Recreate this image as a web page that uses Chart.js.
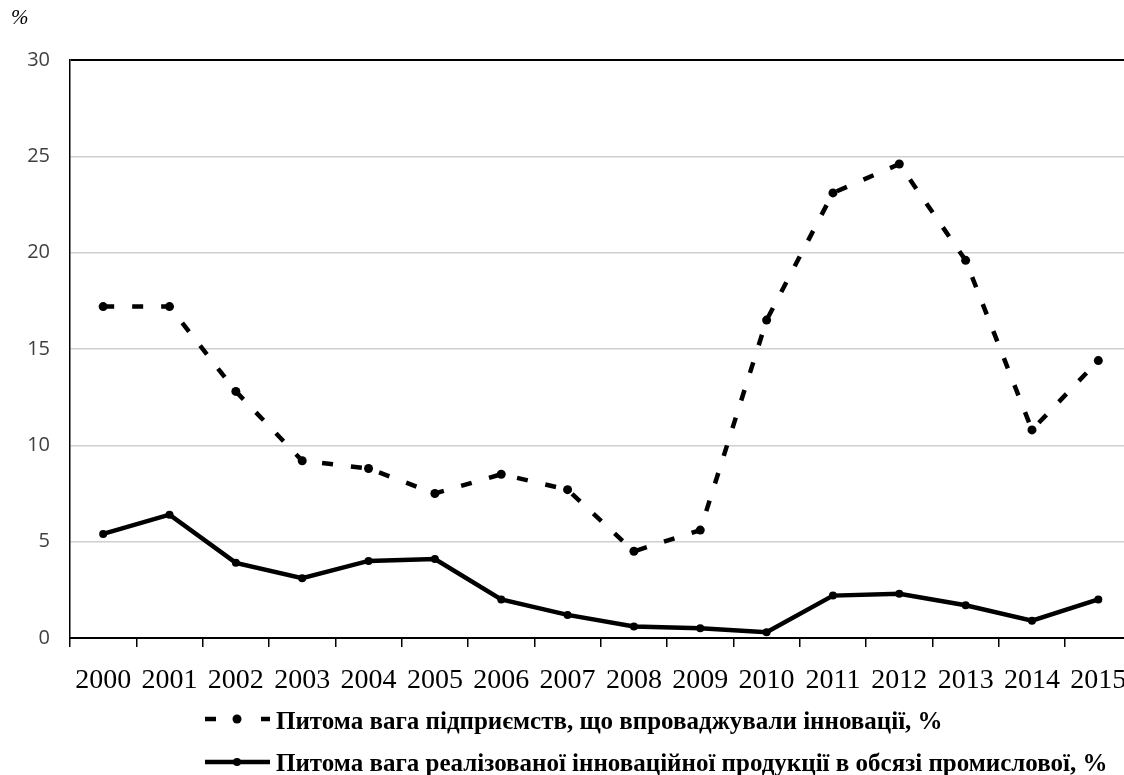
<!DOCTYPE html>
<html>
<head>
<meta charset="utf-8">
<script src="https://cdn.jsdelivr.net/npm/chart.js@4.4.1/dist/chart.umd.min.js"></script>
<style>
  html, body { margin: 0; padding: 0; background: #fff; overflow: hidden; width: 1124px; height: 775px; }
  #wrap { position: absolute; left: 0; top: 0; width: 1136px; height: 775px; }
</style>
</head>
<body>
<div id="wrap"><canvas id="c" width="1136" height="775"></canvas></div>
<script>
const categories = ['2000','2001','2002','2003','2004','2005','2006','2007','2008','2009','2010','2011','2012','2013','2014','2015'];
const enterprisesShare = [17.2, 17.2, 12.8, 9.2, 8.8, 7.5, 8.5, 7.7, 4.5, 5.6, 16.5, 23.1, 24.6, 19.6, 10.8, 14.4];
const productShare = [5.4, 6.4, 3.9, 3.1, 4.0, 4.1, 2.0, 1.2, 0.6, 0.5, 0.3, 2.2, 2.3, 1.7, 0.9, 2.0];
const seriesNames = [
  'Питома вага підприємств, що впроваджували інновації, %',
  'Питома вага реалізованої інноваційної продукції в обсязі промислової, %'
];
const yTicks = [0, 5, 10, 15, 20, 25, 30];
const unitLabel = '%';

const extras = {
  id: 'extras',
  afterDraw(chart) {
    const ctx = chart.ctx;
    ctx.save();
    ctx.fillStyle = '#000';
    ctx.font = 'italic 21px "Liberation Serif"';
    ctx.textBaseline = 'middle';
    ctx.textAlign = 'left';
    ctx.fillText(unitLabel, 11, 18);
    const rows = [{ y: 719, ty: 723, dashed: true }, { y: 762, ty: 765, dashed: false }];
    rows.forEach((r, i) => {
      ctx.strokeStyle = '#000';
      ctx.fillStyle = '#000';
      ctx.lineWidth = 4.5;
      ctx.lineCap = 'butt';
      ctx.beginPath();
      if (r.dashed) {
        ctx.moveTo(205, r.y); ctx.lineTo(216, r.y);
        ctx.moveTo(261, r.y); ctx.lineTo(270, r.y);
      } else {
        ctx.moveTo(205, r.y); ctx.lineTo(270, r.y);
      }
      ctx.stroke();
      ctx.beginPath();
      ctx.arc(237, r.y, r.dashed ? 4.5 : 4, 0, Math.PI * 2);
      ctx.fill();
      ctx.font = 'bold 25px "Liberation Serif"';
      ctx.textBaseline = 'middle';
      ctx.fillText(seriesNames[i], 276, r.ty);
    });
    ctx.restore();
  }
};

new Chart(document.getElementById('c'), {
  type: 'line',
  data: {
    labels: categories,
    datasets: [
      {
        label: seriesNames[0],
        data: enterprisesShare,
        borderColor: '#000',
        backgroundColor: '#000',
        borderWidth: 4.5,
        borderDash: [11, 18],
        pointRadius: 4.5,
        pointBackgroundColor: '#000',
        pointBorderWidth: 0,
        tension: 0,
        fill: false
      },
      {
        label: seriesNames[1],
        data: productShare,
        borderColor: '#000',
        backgroundColor: '#000',
        borderWidth: 4.5,
        pointRadius: 4,
        pointBackgroundColor: '#000',
        pointBorderWidth: 0,
        tension: 0,
        fill: false
      }
    ]
  },
  options: {
    responsive: false,
    devicePixelRatio: 1,
    animation: false,
    layout: { padding: { top: 60, left: 0, right: 3.6, bottom: 67 } },
    plugins: { legend: { display: false }, tooltip: { enabled: false } },
    scales: {
      x: {
        type: 'category',
        offset: true,
        grid: { drawOnChartArea: false, drawTicks: true, tickLength: 9, color: '#000', lineWidth: 1.5, offset: true },
        border: { color: '#000', width: 2 },
        ticks: { color: '#000', font: { family: 'Liberation Serif', size: 28 }, padding: 17, maxRotation: 0, autoSkip: false },
        afterFit(s) { s.height = 70; s.paddingLeft = 0; s.paddingRight = 0; }
      },
      y: {
        min: 0,
        max: 30,
        afterBuildTicks(s) { s.ticks = yTicks.map(v => ({ value: v })); },
        ticks: { color: '#404040', font: { family: 'Open Sans', size: 20 }, padding: 20 },
        grid: {
          drawTicks: false,
          color: c => (c.tick && c.tick.value === 30) ? '#000' : '#cfcfcf',
          lineWidth: c => (c.tick && c.tick.value === 30) ? 2 : 1.5
        },
        border: { color: '#000', width: 1.5 },
        afterFit(s) { s.width = 70; s.paddingTop = 0; s.paddingBottom = 0; }
      }
    }
  },
  plugins: [extras]
});
</script>
</body>
</html>
